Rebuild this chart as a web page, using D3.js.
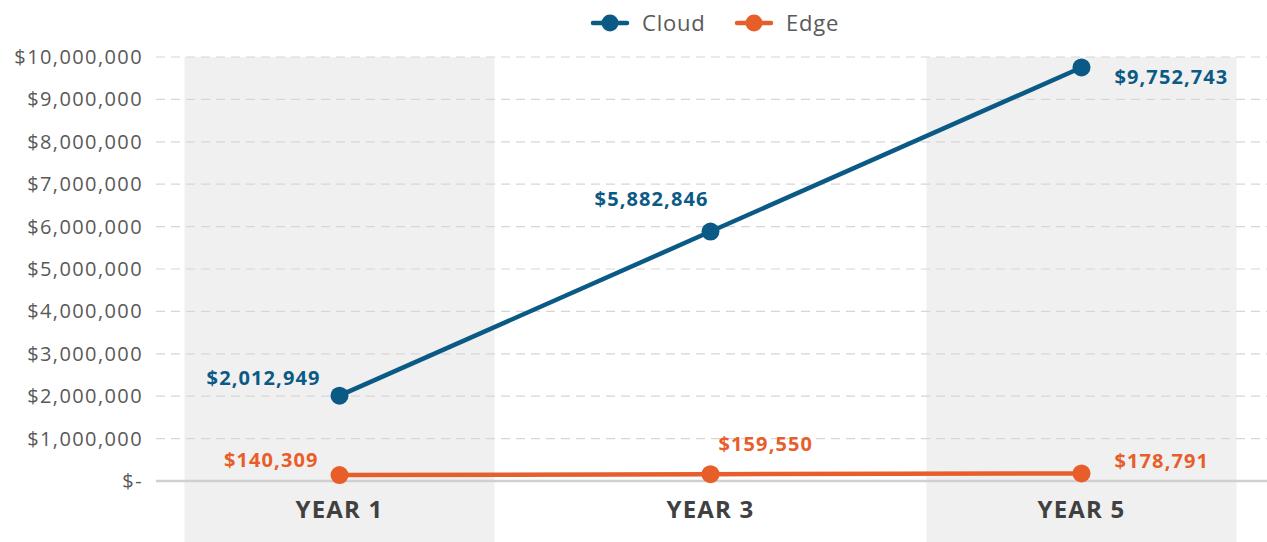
<!DOCTYPE html>
<html>
<head>
<meta charset="utf-8">
<script src="https://cdn.jsdelivr.net/npm/d3@7"></script>
<style>
  body { margin: 0; background: #fff; }
  svg { display: block; font-family: "Open Sans", sans-serif; }
</style>
</head>
<body>
<svg id="chart" width="1267" height="542"></svg>
<script>
const years = ["YEAR 1", "YEAR 3", "YEAR 5"];
const cloud = [2012949, 5882846, 9752743];
const edge = [140309, 159550, 178791];
const yTicks = [0, 1000000, 2000000, 3000000, 4000000, 5000000, 6000000, 7000000, 8000000, 9000000, 10000000];
const shaded = ["YEAR 1", "YEAR 5"];

const svg = d3.select('#chart');
const width = 1267, height = 542;

const x = d3.scaleBand().domain(years).range([154, 1267]);
const y = d3.scaleLinear().domain([0, 10000000]).range([481, 57]);

const fmt = d3.format("$,");
const tickFmt = function(v){ return v === 0 ? "$-" : fmt(v); };

// shaded bands
svg.selectAll(".band")
    .data(shaded)
    .enter()
    .append("rect")
    .attr("x", d => x(d) + x.bandwidth() / 2 - 155)
    .attr("width", 310)
    .attr("y", 57)
    .attr("height", height - 57)
    .attr("fill", "#f0f0f0");

// gridlines
svg.selectAll(".grid")
    .data(yTicks.slice(1))
    .enter()
    .append("line")
    .attr("x1", 156).attr("x2", width)
    .attr("y1", d => y(d)).attr("y2", d => y(d))
    .attr("stroke", "#d6d6d6")
    .attr("stroke-width", 1.2)
    .attr("stroke-dasharray", "9,6");

// baseline
svg.append("line")
    .attr("x1", 156).attr("x2", width)
    .attr("y1", y(0)).attr("y2", y(0))
    .attr("stroke", "#d0d0d0")
    .attr("stroke-width", 2.5);

// y labels
svg.selectAll(".ytick")
    .data(yTicks)
    .enter()
    .append("text")
    .attr("x", 143)
    .attr("y", d => y(d))
    .attr("dy", "0.35em")
    .attr("text-anchor", "end")
    .attr("font-size", 20)
    .attr("letter-spacing", 1.4)
    .attr("fill", "#595959")
    .text(tickFmt);

// x labels
svg.selectAll(".xlab")
    .data(years)
    .enter()
    .append("text")
    .attr("x", d => x(d) + x.bandwidth() / 2)
    .attr("y", 518)
    .attr("text-anchor", "middle")
    .attr("font-size", 24)
    .attr("font-weight", "bold")
    .attr("letter-spacing", 1.2)
    .attr("fill", "#404040")
    .text(d => d);

const series = [
    { name: "Cloud", values: cloud, color: "#0b5a86",
      labels: [{dx: -19, dy: -18, anchor: "end"}, {dx: -2, dy: -33, anchor: "end"}, {dx: 33, dy: 10, anchor: "start"}] },
    { name: "Edge", values: edge, color: "#e85e2a",
      labels: [{dx: -21, dy: -15, anchor: "end"}, {dx: 8, dy: -30, anchor: "start"}, {dx: 33, dy: -12, anchor: "start"}] }
];

const line = d3.line()
    .x((d, i) => x(years[i]) + x.bandwidth() / 2)
    .y(d => y(d));

series.forEach(function(s){
    svg.append("path")
        .datum(s.values)
        .attr("fill", "none")
        .attr("stroke", s.color)
        .attr("stroke-width", 4.5)
        .attr("d", line);

    svg.selectAll(".dot-" + s.name)
        .data(s.values)
        .enter()
        .append("circle")
        .attr("cx", (d, i) => x(years[i]) + x.bandwidth() / 2)
        .attr("cy", d => y(d))
        .attr("r", 9)
        .attr("fill", s.color);

    svg.selectAll(".lab-" + s.name)
        .data(s.values)
        .enter()
        .append("text")
        .attr("x", (d, i) => x(years[i]) + x.bandwidth() / 2 + s.labels[i].dx)
        .attr("y", (d, i) => y(d) + s.labels[i].dy)
        .attr("dy", "0.35em")
        .attr("text-anchor", (d, i) => s.labels[i].anchor)
        .attr("font-size", 20)
        .attr("font-weight", "bold")
        .attr("letter-spacing", 1.1)
        .attr("fill", s.color)
        .text(d => fmt(d));
});

// legend
const legend = svg.append("g");
const legendItems = [
    { name: "Cloud", color: "#0b5a86", x: 593 },
    { name: "Edge", color: "#e85e2a", x: 737 }
];
legendItems.forEach(function(l){
    const g = legend.append("g").attr("transform", "translate(" + l.x + ",23)");
    g.append("line").attr("x1", 0).attr("x2", 34).attr("y1", 0).attr("y2", 0)
        .attr("stroke", l.color).attr("stroke-width", 4.5).attr("stroke-linecap", "round");
    g.append("circle").attr("cx", 17).attr("cy", 0).attr("r", 8.5).attr("fill", l.color);
    g.append("text").attr("x", 49).attr("dy", "0.35em")
        .attr("font-size", 22).attr("letter-spacing", 0.8)
        .attr("fill", "#595959").text(l.name);
});
</script>
</body>
</html>
